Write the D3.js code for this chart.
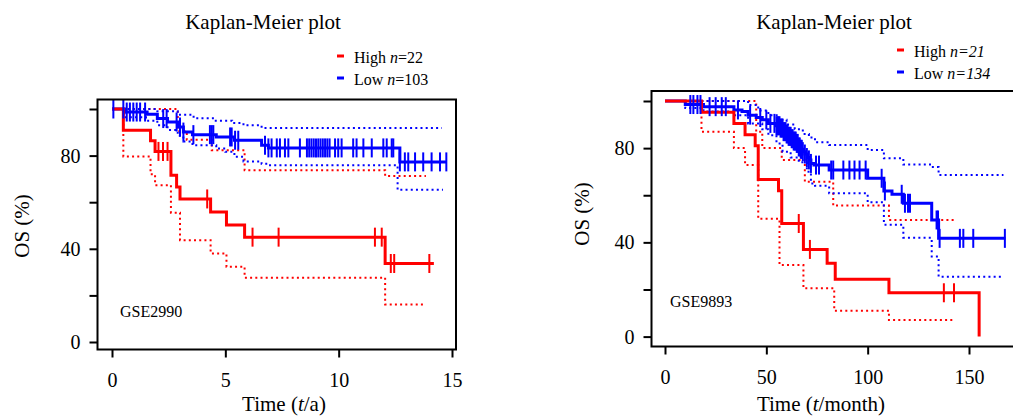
<!DOCTYPE html>
<html>
<head>
<meta charset="utf-8">
<script src="https://cdn.jsdelivr.net/npm/d3@7"></script>
<style>
  body { margin: 0; background: #fff; }
  svg { display: block; }
</style>
</head>
<body>
<script>
// ---- data: [time, survival %] steps, last point = end of follow-up ----

// GSE2990, time in years
const gse2990HighSteps = [[0,100],[0.5,90.9],[1.7,86.4],[1.9,81.8],[2.6,71.6],[2.85,66.5],[3.0,61.4],[4.35,55.8],[5.05,50.2],[5.85,45.0],[12.05,33.7],[14.2,33.7]];
const gse2990HighUpper = [[0,100],[2.9,90.5],[3.3,86.8],[4.4,82.3],[5.85,73.7],[12.05,71.2],[13.85,71.2]];
const gse2990HighLower = [[0,100],[0.5,79.6],[1.7,72],[1.9,67.3],[2.6,55.5],[3.0,43.7],[4.35,38],[5.05,32.3],[5.85,27.6],[12.05,16.1],[13.85,16.1]];
const gse2990HighCensor = [2.05,2.25,2.45,4.2,6.2,7.35,11.6,11.9,12.3,12.45,14.0];

const gse2990LowSteps = [[0,100],[0.55,98.7],[1.55,97.7],[2.0,95.9],[2.45,94.4],[2.9,92.3],[3.15,90.1],[3.55,89.0],[4.6,88.0],[5.4,86.6],[6.6,84.4],[6.9,83.3],[12.7,77.3],[14.75,77.3]];
const gse2990LowUpper = [[0,100],[2.0,99],[2.9,97.5],[3.6,96],[4.5,95],[5.3,94],[5.8,93],[6.6,91.8],[14.55,91.8]];
const gse2990LowLower = [[0,100],[0.55,96.5],[1.5,95],[2.0,93],[2.45,91],[2.9,88.5],[3.15,86],[3.55,84.4],[4.6,83],[5.0,81.6],[5.4,79.5],[5.8,77.5],[6.6,76.5],[6.9,75.9],[12.6,65.3],[14.6,65.3]];
const gse2990LowCensor = [0.06,0.5,0.65,0.79,0.94,1.09,1.24,1.46,2.26,2.41,2.85,3.0,3.15,3.59,4.32,4.4,4.47,5.21,5.28,5.43,5.57,6.75,6.9,7.04,7.27,7.41,7.63,7.78,8.29,8.6,8.7,8.8,8.9,9.0,9.1,9.2,9.3,9.4,9.5,9.6,9.84,9.98,10.13,10.64,10.79,11.09,11.46,11.97,12.12,12.34,12.41,12.7,12.92,13.07,13.37,13.73,14.1,14.47,14.75];

// GSE9893, time in months
const gse9893HighSteps = [[0,100],[18,95.2],[34,90.5],[39.5,85.7],[44.5,81],[46,66.7],[56,61.9],[57.6,48],[68.3,37],[80,31.1],[84,24.3],[110.5,18.6],[155,0]];
const gse9893HighUpper = [[0,100],[45,87],[48,80],[57.6,75],[69,65.7],[83,55.6],[110.5,49.5],[142.5,49.5]];
const gse9893HighLower = [[0,100],[18,87],[34,80],[39.5,72.8],[46,50],[56.5,30.4],[68.3,20.5],[83.5,11],[110.5,7],[142.5,7]];
const gse9893HighCensor = [66,71.5,137.6,142.6];

const gse9893LowSteps = [[0,100],[10,98.5],[19,97.6],[34,96.2],[38,95.5],[41,94],[45,93],[48,92],[51,90.5],[55,89.5],[57,88.5],[58.5,87],[60,86],[61,85],[62.5,84],[63.5,83],[65,82],[66,80.5],[67,79.5],[68,78.5],[69,77.5],[70,76],[71,75],[72,73.5],[73.5,72.8],[81,70.7],[100,67.2],[108,61.8],[112,60.4],[117.6,56.6],[131.6,49.5],[135,41.7],[168,41.7]];
const gse9893LowUpper = [[0,100],[41,98.3],[46,96],[51,94],[56,92],[60,90],[64,88],[68,86],[71,84.5],[74,82.5],[81,81.3],[100,79.2],[108,75.7],[117.6,73],[131.6,72],[135,68.6],[167,68.6]];
const gse9893LowLower = [[0,100],[10,97],[19,95.5],[34,94],[41,90.5],[48,88],[51,85.5],[55,82],[58,78.5],[62,76],[66,74],[70,70],[72,65],[74,64],[81,60.8],[100,57],[108,47.5],[117.6,42],[131.6,34],[135,25.4],[167,25.4]];
const gse9893LowCensor = [12.5,14,16,17.5,22,25,28,30,36,42,47,50,52,54,55,55.5,56,56.5,57,57.5,58,58.5,59,59.5,60,60.5,61,61.5,62,62.5,63,63.5,64,64.5,65,65.5,66,66.5,67,67.5,68,69,70,71,72,74.5,76,82,83,88,91,93.5,96,99,106.9,108.5,116.8,118.4,119.9,120.9,134,134.7,135.5,145.5,147.2,152.1,167.7];

const yTicks = [0, 20, 40, 60, 80, 100];
const yTickLabels = [0, 40, 80];
const gse2990XTicks = [0, 5, 10, 15];
const gse9893XTicks = [0, 50, 100, 150];

const serif = "'Liberation Serif', 'Times New Roman', serif";
const red = '#ff0000';
const blue = '#0000ff';

const svg = d3.select('body').append('svg')
  .attr('width', 1013)
  .attr('height', 417)
  .style('font-family', serif);

// survival value at time t from a step list
function stepValue(steps, t) {
  let v = steps[0][1];
  for (const [ti, vi] of steps) if (ti <= t) v = vi;
  return v;
}

function drawPanel(p) {
  const g = svg.append('g');
  const x = d3.scaleLinear().domain(p.xDomain).range(p.xRange);
  const y = d3.scaleLinear().domain([0, 100]).range(p.yRange);
  const line = d3.line().x(d => x(d[0])).y(d => y(d[1])).curve(d3.curveStepAfter);

  // Confidence bands (dotted)
  const bands = [[p.high.upper, red], [p.high.lower, red], [p.low.upper, blue], [p.low.lower, blue]];
  for (const [band, color] of bands) {
    g.append('path')
      .datum(band)
      .attr('fill', 'none')
      .attr('stroke', color)
      .attr('stroke-width', 2)
      .attr('stroke-dasharray', '2 3.2')
      .attr('d', line);
  }

  // Survival curves
  for (const grp of [p.low, p.high]) {
    g.append('path')
      .datum(grp.steps)
      .attr('fill', 'none')
      .attr('stroke', grp.color)
      .attr('stroke-width', 3)
      .attr('d', line);
  }

  // Censor marks
  for (const grp of [p.low, p.high]) {
    g.append('g').selectAll('line')
      .data(grp.censor)
      .join('line')
      .attr('x1', d => x(d)).attr('x2', d => x(d))
      .attr('y1', d => y(stepValue(grp.steps, d)) - 9.5)
      .attr('y2', d => y(stepValue(grp.steps, d)) + 9.5)
      .attr('stroke', grp.color)
      .attr('stroke-width', 2);
  }

  // Frame
  const f = p.frame;
  g.append('rect')
    .attr('x', f.x0).attr('y', f.y0)
    .attr('width', f.x1 - f.x0).attr('height', f.y1 - f.y0)
    .attr('fill', 'none')
    .attr('stroke', '#000')
    .attr('stroke-width', 2);

  const styleAxis = a => {
    a.select('.domain').remove();
    a.attr('font-family', serif).attr('font-size', 20);
    a.selectAll('.tick line').attr('stroke', '#000').attr('stroke-width', 2);
    a.selectAll('.tick text').attr('fill', '#000');
  };

  // Y axis
  g.append('g')
    .attr('transform', `translate(${f.x0},0)`)
    .call(d3.axisLeft(y).tickValues(yTicks).tickSize(8).tickPadding(9)
      .tickFormat(d => yTickLabels.includes(d) ? d : ''))
    .call(styleAxis);

  // X axis
  g.append('g')
    .attr('transform', `translate(0,${f.y1})`)
    .call(d3.axisBottom(x).tickValues(p.xTicks).tickSize(8).tickPadding(15))
    .call(styleAxis);

  // Title
  g.append('text')
    .attr('x', p.titleX).attr('y', 28.5)
    .attr('text-anchor', 'middle')
    .attr('font-size', 21)
    .text('Kaplan-Meier plot');

  // Axis labels
  const xl = g.append('text')
    .attr('x', p.xLabelX).attr('y', 410.5)
    .attr('text-anchor', 'middle')
    .attr('font-size', 21);
  xl.append('tspan').text('Time (');
  xl.append('tspan').attr('font-style', 'italic').text('t');
  xl.append('tspan').text(`/${p.timeUnit})`);

  g.append('text')
    .attr('transform', `translate(${p.yLabel[0]},${p.yLabel[1]}) rotate(-90)`)
    .attr('text-anchor', 'middle')
    .attr('dominant-baseline', 'central')
    .attr('font-size', 21)
    .text('OS (%)');

  // Dataset name
  g.append('text')
    .attr('x', p.gse[0]).attr('y', p.gse[1])
    .attr('font-size', 16)
    .text(p.name);

  // Legend
  [p.high, p.low].forEach((grp, i) => {
    const by = p.legend[1] + i * 22;
    g.append('line')
      .attr('x1', p.legend[0]).attr('x2', p.legend[0] + 7)
      .attr('y1', by - 6.5).attr('y2', by - 6.5)
      .attr('stroke', grp.color)
      .attr('stroke-width', 3);
    const t = g.append('text')
      .attr('x', p.legend[0] + 17).attr('y', by)
      .attr('font-size', 16);
    t.append('tspan').text(grp.label + ' ');
    if (p.italicCount) {
      t.append('tspan').attr('font-style', 'italic').text(`n=${grp.n}`);
    } else {
      t.append('tspan').attr('font-style', 'italic').text('n');
      t.append('tspan').text(`=${grp.n}`);
    }
  });
}

drawPanel({
  name: 'GSE2990',
  timeUnit: 'a',
  xDomain: [0, 15], xRange: [112, 452], xTicks: gse2990XTicks,
  yRange: [342, 109],
  frame: { x0: 97.5, x1: 456, y0: 99.5, y1: 349.5 },
  titleX: 263, xLabelX: 284, yLabel: [22, 226], gse: [120, 316.5],
  legend: [337, 62.5], italicCount: false,
  high: { label: 'High', n: 22, color: red, steps: gse2990HighSteps, upper: gse2990HighUpper, lower: gse2990HighLower, censor: gse2990HighCensor },
  low: { label: 'Low', n: 103, color: blue, steps: gse2990LowSteps, upper: gse2990LowUpper, lower: gse2990LowLower, censor: gse2990LowCensor }
});

drawPanel({
  name: 'GSE9893',
  timeUnit: 'month',
  xDomain: [0, 150], xRange: [665, 969], xTicks: gse9893XTicks,
  yRange: [336.6, 101],
  frame: { x0: 651.5, x1: 1030, y0: 91, y1: 346.5 },
  titleX: 834, xLabelX: 821, yLabel: [582, 214], gse: [670, 307],
  legend: [897, 56.5], italicCount: true,
  high: { label: 'High', n: 21, color: red, steps: gse9893HighSteps, upper: gse9893HighUpper, lower: gse9893HighLower, censor: gse9893HighCensor },
  low: { label: 'Low', n: 134, color: blue, steps: gse9893LowSteps, upper: gse9893LowUpper, lower: gse9893LowLower, censor: gse9893LowCensor }
});
</script>
</body>
</html>
